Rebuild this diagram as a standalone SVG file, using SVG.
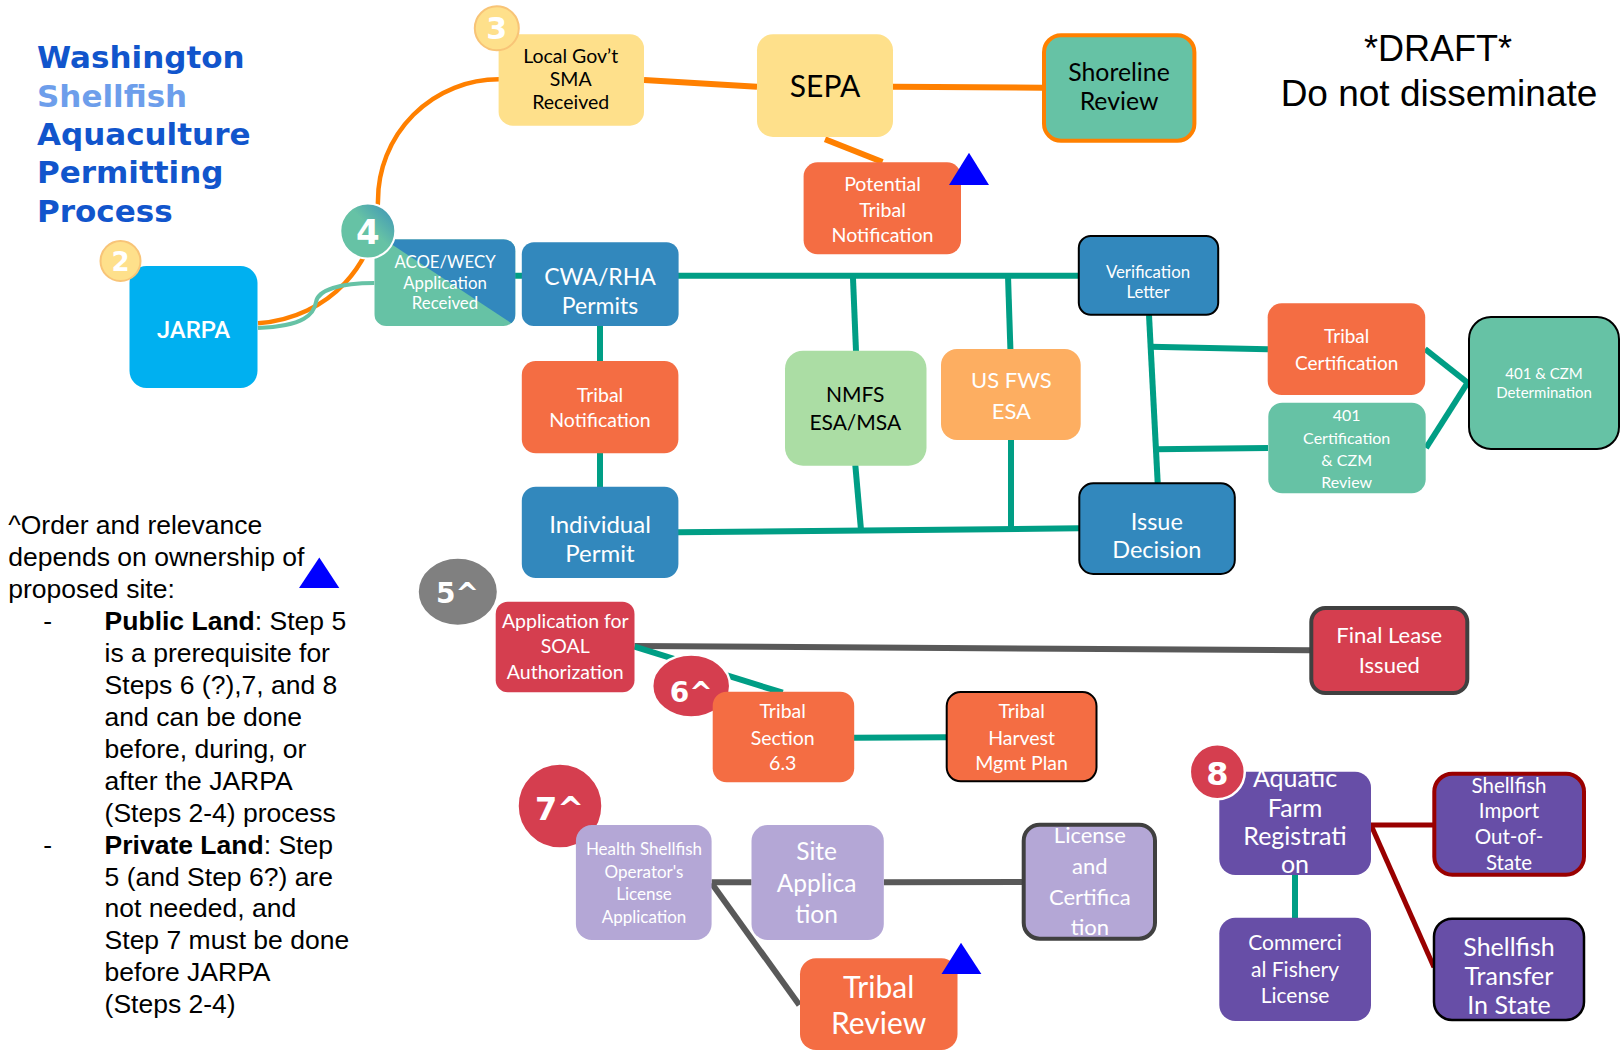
<svg xmlns="http://www.w3.org/2000/svg" width="1624" height="1055" viewBox="0 0 1624 1055">
<style>
.t{font-family:Lato,"Open Sans","Noto Sans",sans-serif;text-anchor:middle}
.w{fill:#fff}
.k{fill:#000}
.title{font-family:"DejaVu Sans",sans-serif;font-weight:bold;font-size:31px}
.num{font-family:"DejaVu Sans",sans-serif;font-weight:bold;fill:#fff;text-anchor:middle}
.teal{stroke:#009e85;stroke-width:6;fill:none}
.orange{stroke:#ff8000;stroke-width:6;fill:none}
.gray{stroke:#595959;stroke-width:6;fill:none}
.red{stroke:#990000;stroke-width:5;fill:none}
.legend{font-family:"Liberation Sans",Arial,sans-serif;font-size:26.5px;fill:#000}
.blue{fill:#3288bd}
.tribal{fill:#f46d43}
.crim{fill:#d53e4f}
.lpur{fill:#b4a7d6}
.dpur{fill:#674ea7}
.sea{fill:#66c2a5}
.yel{fill:#fee08b}
.blk{stroke:#000;stroke-width:2}
.tri{fill:#0000ff}
.badgeY{fill:#fee08b;stroke:#f8c477;stroke-width:2}
.badgeR{fill:#d53e4f;stroke:#fff;stroke-width:2.5}
</style>
<defs>
<linearGradient id="g4" x1="1" y1="0" x2="0" y2="1">
<stop offset="0" stop-color="#3a8fba"/>
<stop offset="0.45" stop-color="#66c2a5"/>
<stop offset="1" stop-color="#66c2a5"/>
</linearGradient>
<clipPath id="acoeClip"><rect x="374.3" y="239.3" width="141.2" height="86.7" rx="12"/></clipPath>
</defs>

<g id="title">
<text class="title" x="37" y="68.3" fill="#1155cc">Washington</text>
<text class="title" x="37" y="106.7" fill="#6d9eeb">Shellfish</text>
<text class="title" x="37" y="145" fill="#1155cc">Aquaculture</text>
<text class="title" x="37" y="183.3" fill="#1155cc">Permitting</text>
<text class="title" x="37" y="221.7" fill="#1155cc">Process</text>
</g>

<g id="draft">
<text x="1438" y="61" font-family="Liberation Sans,Arial,sans-serif" font-size="36" text-anchor="middle">*DRAFT*</text>
<text x="1439" y="106" font-family="Liberation Sans,Arial,sans-serif" font-size="37" text-anchor="middle">Do not disseminate</text>
</g>

<g id="connectors">
<path d="M499,79.3 A121,121 0 0 0 378,200.3 C378,262 330,318 258,323.3" stroke="#ff8000" stroke-width="4.5" fill="none"/>
<path d="M374.3,283 C340,283 318,290 316,302 C314,314 305,326 258,328" stroke="#66c2a5" stroke-width="4" fill="none"/>
<line class="orange" x1="644" y1="80" x2="757" y2="86.7"/>
<line class="orange" x1="893" y1="86.7" x2="1042" y2="87.7"/>
<line class="orange" x1="825" y1="139.3" x2="882.5" y2="162"/>
<line class="teal" x1="515" y1="275.7" x2="1078" y2="275.7"/>
<line class="teal" x1="600" y1="326" x2="600" y2="361"/>
<line class="teal" x1="600" y1="453" x2="600" y2="487"/>
<line class="teal" x1="852.9" y1="276" x2="856" y2="351"/>
<line class="teal" x1="855.3" y1="465" x2="861" y2="530"/>
<line class="teal" x1="1008" y1="276" x2="1010.4" y2="349"/>
<line class="teal" x1="1011" y1="440" x2="1011" y2="530"/>
<line class="teal" x1="678" y1="532.3" x2="1079" y2="528.3"/>
<line class="teal" x1="1149" y1="315" x2="1157.7" y2="483"/>
<line class="teal" x1="1150.5" y1="346.7" x2="1268" y2="349.3"/>
<line class="teal" x1="1156" y1="449.3" x2="1268" y2="448"/>
<line class="teal" x1="1425" y1="349" x2="1468" y2="383"/>
<line class="teal" x1="1426" y1="448" x2="1468" y2="382"/>
<line class="gray" x1="634.5" y1="646" x2="1310" y2="650.3"/>
<line class="teal" x1="634.5" y1="646.7" x2="782.7" y2="692.7"/>
<line class="teal" x1="854" y1="737.7" x2="946" y2="737.3"/>
<line class="gray" x1="711.6" y1="882.3" x2="751.5" y2="882.3"/>
<line class="gray" x1="883.8" y1="882.3" x2="1022" y2="882"/>
<line class="gray" x1="711.6" y1="883.3" x2="799.3" y2="1005"/>
<line class="red" x1="1371" y1="825" x2="1433" y2="825"/>
<line class="red" x1="1371" y1="825" x2="1434" y2="967.3"/>
<line class="teal" x1="1295" y1="875" x2="1295" y2="918"/>
</g>

<g id="jarpa">
<rect x="129.5" y="266" width="128" height="122" rx="17" fill="#00b0f0"/>
<text class="w" x="193.5" y="338" font-family="Roboto,sans-serif" font-weight="500" font-size="24" text-anchor="middle">JARPA</text>
</g>
<g id="step2">
<circle class="badgeY" cx="120.5" cy="261" r="20"/>
<text class="num" x="120.5" y="270.5" font-size="26">2</text>
</g>

<g id="acoe">
<g clip-path="url(#acoeClip)">
<rect x="374.3" y="239.3" width="141.2" height="86.7" fill="#66c2a5"/>
<polygon points="384,239.3 515.5,239.3 515.5,326" fill="#3288bd"/>
</g>
<text class="t w" font-size="16.8"><tspan x="445" y="268.3">ACOE/WECY</tspan><tspan x="445" y="288.7">Application</tspan><tspan x="445" y="309">Received</tspan></text>
</g>
<g id="step4">
<circle cx="367.8" cy="231" r="27.5" fill="url(#g4)" stroke="#fff" stroke-width="2"/>
<text class="num" x="367.8" y="243.5" font-size="34">4</text>
</g>

<g id="localgov">
<rect class="yel" x="498.6" y="34.3" width="145.4" height="91.4" rx="14"/>
<text class="t k" font-size="19.5"><tspan x="570.7" y="62.7">Local Gov’t</tspan><tspan x="570.7" y="86">SMA</tspan><tspan x="570.7" y="108.7">Received</tspan></text>
</g>
<g id="step3">
<circle class="badgeY" cx="496.8" cy="28.3" r="22"/>
<text class="num" x="496.8" y="39.3" font-size="30">3</text>
</g>

<g id="sepa">
<rect class="yel" x="757" y="34.3" width="136" height="102.7" rx="16"/>
<text class="t k" x="825" y="96.5" font-size="30">SEPA</text>
</g>

<g id="shoreline">
<rect class="sea" x="1044" y="35.3" width="150.4" height="105.4" rx="17" stroke="#ff8000" stroke-width="4"/>
<text class="t k" font-size="24.8"><tspan x="1119" y="81">Shoreline</tspan><tspan x="1119" y="110">Review</tspan></text>
</g>

<g id="potential">
<rect class="tribal" x="803.6" y="162.3" width="157.4" height="92" rx="14"/>
<text class="t w" font-size="19.6"><tspan x="882.5" y="190.7">Potential</tspan><tspan x="882.5" y="216.7">Tribal</tspan><tspan x="882.5" y="242.3">Notification</tspan></text>
<polygon class="tri" points="949,185 969,152.7 989,185"/>
</g>

<g id="cwa">
<rect class="blue" x="521.8" y="242.3" width="156.8" height="83.7" rx="12"/>
<text class="t w" font-size="23"><tspan x="600" y="285">CWA/RHA</tspan><tspan x="600" y="314.3">Permits</tspan></text>
</g>

<g id="verification">
<rect class="blue blk" x="1078.8" y="236" width="139.4" height="78.7" rx="12"/>
<text class="t w" font-size="16.8"><tspan x="1148" y="278.3">Verification</tspan><tspan x="1148" y="298.3">Letter</tspan></text>
</g>

<g id="tribalcert">
<rect class="tribal" x="1267.7" y="303.3" width="157.5" height="91.7" rx="14"/>
<text class="t w" font-size="19"><tspan x="1346.7" y="343.3">Tribal</tspan><tspan x="1346.7" y="370">Certification</tspan></text>
</g>

<g id="cert401">
<rect class="sea" x="1268.3" y="402.7" width="157.4" height="90.6" rx="14"/>
<text class="t w" font-size="16"><tspan x="1346.7" y="420.7">401</tspan><tspan x="1346.7" y="444">Certification</tspan><tspan x="1346.7" y="466">&amp; CZM</tspan><tspan x="1346.7" y="487.7">Review</tspan></text>
</g>

<g id="determination">
<rect class="sea blk" x="1469" y="317" width="150" height="132" rx="22"/>
<text class="t w" font-size="15"><tspan x="1544" y="379">401 &amp; CZM</tspan><tspan x="1544" y="398.3">Determination</tspan></text>
</g>

<g id="tribalnotif">
<rect class="tribal" x="521.8" y="361" width="156.6" height="92.3" rx="14"/>
<text class="t w" font-size="19.5"><tspan x="600" y="401.7">Tribal</tspan><tspan x="600" y="427.3">Notification</tspan></text>
</g>

<g id="individual">
<rect class="blue" x="521.8" y="486.7" width="156.6" height="91.3" rx="14"/>
<text class="t w" font-size="24"><tspan x="600" y="533.3">Individual</tspan><tspan x="600" y="561.7">Permit</tspan></text>
</g>

<g id="nmfs">
<rect x="785" y="350.7" width="141.5" height="115" rx="18" fill="#abdda4"/>
<text class="t k" font-size="21"><tspan x="855.3" y="401.7">NMFS</tspan><tspan x="855.3" y="430">ESA/MSA</tspan></text>
</g>

<g id="usfws">
<rect x="941" y="349" width="139.7" height="91" rx="16" fill="#fdae61"/>
<text class="t w" font-size="22"><tspan x="1011.4" y="388.3">US FWS</tspan><tspan x="1011.4" y="419.3">ESA</tspan></text>
</g>

<g id="issue">
<rect class="blue blk" x="1079.3" y="483.3" width="155.5" height="90.7" rx="14"/>
<text class="t w" font-size="23.5"><tspan x="1156.8" y="530">Issue</tspan><tspan x="1156.8" y="558.3">Decision</tspan></text>
</g>

<g id="legend">
<text class="legend" x="8.3" y="533.8">^Order and relevance</text>
<text class="legend" x="8.3" y="565.8">depends on ownership of</text>
<text class="legend" x="8.3" y="597.7">proposed site:</text>
<text class="legend" x="43.3" y="629.7">-</text>
<text class="legend" x="104.6" y="629.7"><tspan font-weight="bold">Public Land</tspan>: Step 5</text>
<text class="legend" x="104.6" y="661.7">is a prerequisite for</text>
<text class="legend" x="104.6" y="693.7">Steps 6 (?),7, and 8</text>
<text class="legend" x="104.6" y="725.6">and can be done</text>
<text class="legend" x="104.6" y="757.6">before, during, or</text>
<text class="legend" x="104.6" y="789.6">after the JARPA</text>
<text class="legend" x="104.6" y="821.5">(Steps 2-4) process</text>
<text class="legend" x="43.3" y="853.5">-</text>
<text class="legend" x="104.6" y="853.5"><tspan font-weight="bold">Private Land</tspan>: Step</text>
<text class="legend" x="104.6" y="885.5">5 (and Step 6?) are</text>
<text class="legend" x="104.6" y="917.4">not needed, and</text>
<text class="legend" x="104.6" y="949.4">Step 7 must be done</text>
<text class="legend" x="104.6" y="981.4">before JARPA</text>
<text class="legend" x="104.6" y="1013.3">(Steps 2-4)</text>
<polygon class="tri" points="299,588 319.3,557.5 339.3,588"/>
</g>

<g id="step5">
<ellipse cx="457.8" cy="591.7" rx="40" ry="34" fill="#808080" stroke="#fff" stroke-width="2"/>
<text class="num" x="457.4" y="603.3" font-size="28">5^</text>
</g>

<g id="soal">
<rect class="crim" x="495.7" y="601.7" width="138.8" height="90.6" rx="12"/>
<text class="t w" font-size="19.5"><tspan x="565.3" y="628.3">Application for</tspan><tspan x="565.3" y="653.3">SOAL</tspan><tspan x="565.3" y="679.3">Authorization</tspan></text>
</g>

<g id="finallease">
<rect class="crim" x="1311.3" y="608" width="156" height="85" rx="14" stroke="#404040" stroke-width="4"/>
<text class="t w" font-size="22"><tspan x="1389.3" y="643.3">Final Lease</tspan><tspan x="1389.3" y="673.3">Issued</tspan></text>
</g>

<g id="step6">
<ellipse class="badgeR" cx="691.2" cy="686" rx="39" ry="31.5"/>
<text class="num" x="691.2" y="701.7" font-size="28">6^</text>
</g>

<g id="tribalsection">
<rect class="tribal" x="712.7" y="691.7" width="141.5" height="90.6" rx="14"/>
<text class="t w" font-size="19.5"><tspan x="782.7" y="718.3">Tribal</tspan><tspan x="782.7" y="745">Section</tspan><tspan x="782.7" y="770">6.3</tspan></text>
</g>

<g id="tribalharvest">
<rect class="tribal blk" x="946.7" y="692" width="149.8" height="89.3" rx="14"/>
<text class="t w" font-size="19.5"><tspan x="1021.6" y="718.3">Tribal</tspan><tspan x="1021.6" y="745">Harvest</tspan><tspan x="1021.6" y="770">Mgmt Plan</tspan></text>
</g>

<g id="step7">
<circle class="badgeR" cx="560" cy="806" r="42.5"/>
<text class="num" x="559.6" y="820" font-size="32">7^</text>
</g>

<g id="health">
<rect class="lpur" x="575.9" y="825" width="135.7" height="115" rx="16"/>
<text class="t w" font-size="17"><tspan x="644" y="855">Health Shellfish</tspan><tspan x="644" y="878.3">Operator's</tspan><tspan x="644" y="900">License</tspan><tspan x="644" y="922.7">Application</tspan></text>
</g>

<g id="site">
<rect class="lpur" x="751.5" y="825" width="132.3" height="115" rx="16"/>
<text class="t w" font-size="24.5"><tspan x="816.6" y="860">Site</tspan><tspan x="816.6" y="891.7">Applica</tspan><tspan x="816.6" y="923.3">tion</tspan></text>
</g>

<g id="license">
<rect class="lpur" x="1023.7" y="824.7" width="131.3" height="114" rx="16" stroke="#404040" stroke-width="4"/>
<text class="t w" font-size="22"><tspan x="1089.8" y="843.3">License</tspan><tspan x="1089.8" y="874">and</tspan><tspan x="1089.8" y="905">Certifica</tspan><tspan x="1089.8" y="935">tion</tspan></text>
</g>

<g id="tribalreview">
<rect class="tribal" x="800" y="958.3" width="157.5" height="91.7" rx="16"/>
<text class="t w" font-size="30"><tspan x="878.6" y="998">Tribal</tspan><tspan x="878.6" y="1034">Review</tspan></text>
<polygon class="tri" points="941.5,974 961,942.7 981.4,974"/>
</g>

<g id="aquatic">
<rect class="dpur" x="1219.3" y="771.7" width="151.7" height="103.3" rx="16"/>
<text class="t w" font-size="25"><tspan x="1295" y="787.3">Aquatic</tspan><tspan x="1295" y="817.3">Farm</tspan><tspan x="1295" y="845">Registrati</tspan><tspan x="1295" y="873.3">on</tspan></text>
</g>
<g id="step8">
<circle class="badgeR" cx="1217.3" cy="771.7" r="27.5"/>
<text class="num" x="1217.3" y="785" font-size="32">8</text>
</g>

<g id="commercial">
<rect class="dpur" x="1219.3" y="917.7" width="151.7" height="103.3" rx="16"/>
<text class="t w" font-size="21"><tspan x="1295" y="950">Commerci</tspan><tspan x="1295" y="976.7">al Fishery</tspan><tspan x="1295" y="1003.3">License</tspan></text>
</g>

<g id="import">
<rect class="dpur" x="1434.3" y="773.7" width="149.7" height="101" rx="18" stroke="#990000" stroke-width="4"/>
<text class="t w" font-size="20.5"><tspan x="1509" y="792.7">Shellfish</tspan><tspan x="1509" y="818.3">Import</tspan><tspan x="1509" y="844.3">Out-of-</tspan><tspan x="1509" y="870">State</tspan></text>
</g>

<g id="transfer">
<rect class="dpur" x="1434" y="918.7" width="150" height="101.3" rx="18" stroke="#000" stroke-width="2.5"/>
<text class="t w" font-size="25"><tspan x="1509" y="956">Shellfish</tspan><tspan x="1509" y="985">Transfer</tspan><tspan x="1509" y="1014">In State</tspan></text>
</g>
</svg>
